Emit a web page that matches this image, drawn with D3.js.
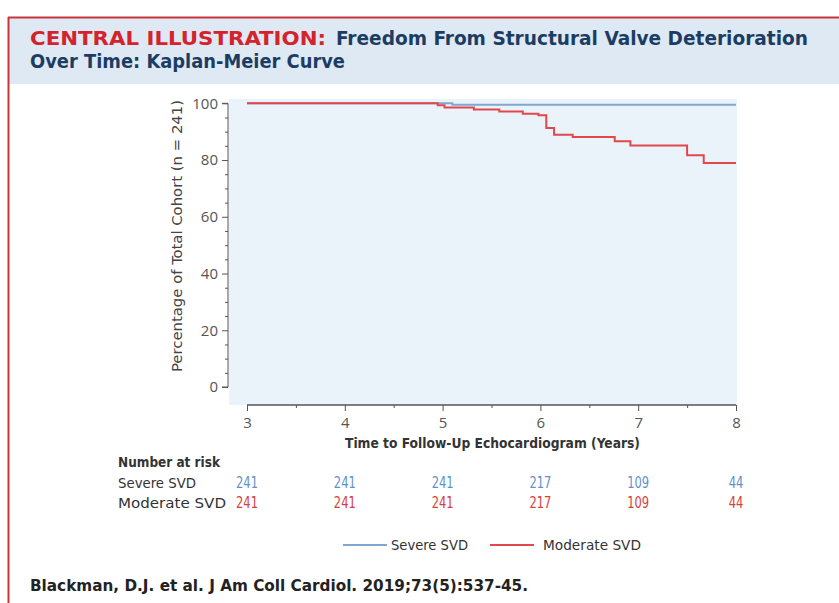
<!DOCTYPE html>
<html><head><meta charset="utf-8">
<script src="https://cdn.jsdelivr.net/npm/d3@7"></script>
<style>
body{margin:0;background:#fff;}
svg{display:block;}
text{font-family:"Liberation Sans Narrow","DejaVu Sans Condensed","Roboto Condensed","Open Sans",sans-serif;}
</style></head>
<body>
<svg id="chart" width="839" height="603"></svg>
<script>
const seriesNames = ["Severe SVD", "Moderate SVD"];
const severeSteps = [[3, 100], [5.1, 99.5], [8, 99.5]];
const moderateSteps = [[3, 100], [4.95, 99.3], [5.02, 98.5], [5.32, 97.8], [5.58, 97.1], [5.82, 96.3], [5.98, 95.8], [6.06, 91.3], [6.14, 88.9], [6.33, 88.1], [6.76, 86.6], [6.92, 85.1], [7.50, 81.7], [7.67, 79.0], [8.0, 79.0]];
const xTicks = [3, 4, 5, 6, 7, 8];
const yTicks = [0, 20, 40, 60, 80, 100];
const riskSevere = [241, 241, 241, 217, 109, 44];
const riskModerate = [241, 241, 241, 217, 109, 44];

const colors = {severe: "#7fa7d1", moderate: "#e0484c"};
const svg = d3.select("#chart");

// frame & header
svg.append("rect").attr("x", 9).attr("y", 18).attr("width", 840).attr("height", 66).attr("fill", "#dfe9f4");
svg.append("line").attr("x1", 8).attr("x2", 839).attr("y1", 17.5).attr("y2", 17.5).attr("stroke", "#c9343b").attr("stroke-width", 2);
svg.append("line").attr("x1", 8.5).attr("x2", 8.5).attr("y1", 17).attr("y2", 603).attr("stroke", "#c9343b").attr("stroke-width", 2);

svg.append("text").attr("x", 30).attr("y", 45).attr("font-size", 19).attr("font-weight", "bold").attr("fill", "#d3232c")
  .text("CENTRAL ILLUSTRATION:").attr("textLength", 296).attr("lengthAdjust", "spacingAndGlyphs");
svg.append("text").attr("x", 336).attr("y", 45).attr("font-size", 19).attr("font-weight", "bold").attr("fill", "#1c3d63")
  .text("Freedom From Structural Valve Deterioration").attr("textLength", 472).attr("lengthAdjust", "spacingAndGlyphs");
svg.append("text").attr("x", 30).attr("y", 68).attr("font-size", 19).attr("font-weight", "bold").attr("fill", "#1c3d63")
  .text("Over Time: Kaplan-Meier Curve").attr("textLength", 315).attr("lengthAdjust", "spacingAndGlyphs");

// scales
const x = d3.scaleLinear().domain([3, 8]).range([247, 736]);
const y = d3.scaleLinear().domain([0, 100]).range([387, 103.3]);

// plot background
svg.append("rect").attr("x", 229).attr("y", 99).attr("width", 508).attr("height", 306).attr("fill", "#ebf3fa");

// y axis
const yAxis = d3.axisLeft(y).tickValues(yTicks).tickSize(6).tickPadding(4);
const gy = svg.append("g").attr("transform", "translate(228,0)").call(yAxis);
gy.select(".domain").attr("stroke", "#555").attr("d", `M-6,${y(0)}H0V${y(100)}H-6`);
gy.selectAll(".tick line").attr("stroke", "#555");
gy.selectAll(".tick text").attr("fill", "#555").attr("font-size", 15).style("font-family", "'Open Sans',sans-serif");
const gyMinor = svg.append("g").attr("transform", "translate(228,0)").call(d3.axisLeft(y).tickValues(d3.range(0, 101, 5).filter(v => v % 20 !== 0)).tickSize(3).tickFormat(""));
gyMinor.select(".domain").remove();
gyMinor.selectAll(".tick line").attr("stroke", "#555");

// x axis
const gx = svg.append("g").attr("transform", "translate(0,405)").call(d3.axisBottom(x).tickValues(xTicks).tickSize(6).tickPadding(6).tickFormat(d3.format("d")));
gx.select(".domain").attr("stroke", "#555").attr("d", `M${x(3)},0H${x(8)}`).attr("stroke-width", 1.5);
gx.selectAll(".tick line").attr("stroke", "#555");
gx.selectAll(".tick text").attr("fill", "#555").attr("font-size", 15).style("font-family", "'Open Sans',sans-serif");
const gxMinor = svg.append("g").attr("transform", "translate(0,405)").call(d3.axisBottom(x).tickValues([3.5, 4.5, 5.5, 6.5, 7.5]).tickSize(3).tickFormat(""));
gxMinor.select(".domain").remove();
gxMinor.selectAll(".tick line").attr("stroke", "#555");

// axis titles
svg.append("text").attr("transform", "translate(182,236) rotate(-90)").attr("text-anchor", "middle")
  .attr("font-size", 14).attr("fill", "#444").text("Percentage of Total Cohort (n = 241)").attr("textLength", 272).attr("lengthAdjust", "spacingAndGlyphs");
svg.append("text").attr("x", 345).attr("y", 448).attr("font-size", 14).attr("font-weight", "bold").attr("fill", "#333")
  .text("Time to Follow-Up Echocardiogram (Years)").attr("textLength", 295).attr("lengthAdjust", "spacingAndGlyphs");

// curves
const line = d3.line().x(d => x(d[0])).y(d => y(d[1])).curve(d3.curveStepAfter);
svg.append("path").datum(severeSteps).attr("d", line).attr("fill", "none").attr("stroke", colors.severe).attr("stroke-width", 2);
svg.append("path").datum(moderateSteps).attr("d", line).attr("fill", "none").attr("stroke", colors.moderate).attr("stroke-width", 2);

// number at risk
svg.append("text").attr("x", 118).attr("y", 467).attr("font-size", 14).attr("font-weight", "bold").attr("fill", "#333")
  .text("Number at risk").attr("textLength", 102).attr("lengthAdjust", "spacingAndGlyphs");
svg.append("text").attr("x", 118).attr("y", 488).attr("font-size", 14).attr("fill", "#333")
  .text(seriesNames[0]).attr("textLength", 78).attr("lengthAdjust", "spacingAndGlyphs");
svg.append("text").attr("x", 118).attr("y", 508).attr("font-size", 14).attr("fill", "#333")
  .text(seriesNames[1]).attr("textLength", 108).attr("lengthAdjust", "spacingAndGlyphs");
svg.selectAll(".rs").data(riskSevere).join("text").attr("class", "rs")
  .attr("x", (d, i) => x(xTicks[i])).attr("y", 488).attr("text-anchor", "middle").attr("font-size", 15).attr("fill", "#5f92cc")
  .attr("textLength", d => String(d).length * 7.3).attr("lengthAdjust", "spacingAndGlyphs").text(d => d);
svg.selectAll(".rm").data(riskModerate).join("text").attr("class", "rm")
  .attr("x", (d, i) => x(xTicks[i])).attr("y", 508).attr("text-anchor", "middle").attr("font-size", 15).attr("fill", "#d8403c")
  .attr("textLength", d => String(d).length * 7.3).attr("lengthAdjust", "spacingAndGlyphs").text(d => d);

// legend
const legend = [{name: seriesNames[0], c: colors.severe, x1: 343, tx: 391, w: 77}, {name: seriesNames[1], c: colors.moderate, x1: 490, tx: 543, w: 98}];
legend.forEach(l => {
  svg.append("line").attr("x1", l.x1).attr("x2", l.x1 + 44).attr("y1", 545).attr("y2", 545).attr("stroke", l.c).attr("stroke-width", 2);
  svg.append("text").attr("x", l.tx).attr("y", 550).attr("font-size", 14).attr("fill", "#333").text(l.name).attr("textLength", l.w).attr("lengthAdjust", "spacingAndGlyphs");
});

// citation
svg.append("text").attr("x", 30).attr("y", 591).attr("font-size", 16).attr("font-weight", "bold").attr("fill", "#222")
  .text("Blackman, D.J. et al. J Am Coll Cardiol. 2019;73(5):537-45.").attr("textLength", 498).attr("lengthAdjust", "spacingAndGlyphs");
</script>
</body></html>
